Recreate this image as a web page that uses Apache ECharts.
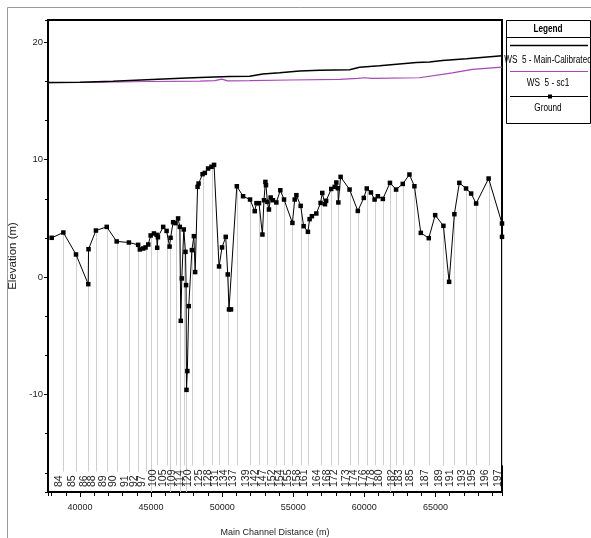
<!DOCTYPE html>
<html>
<head>
<meta charset="utf-8">
<script src="https://cdn.jsdelivr.net/npm/echarts@6/dist/echarts.min.js"></script>
<style>
  html, body { margin: 0; padding: 0; background: #fff; }
  #chart { width: 591px; height: 538px; }
</style>
</head>
<body>
<div id="chart"></div>
<script>
// ground profile along the main channel (m, m)
var groundDist = [38010, 38830, 39720, 40580, 40600, 41120, 41880, 42580, 43440, 44090,
  44210, 44450, 44610, 44800, 44970, 45200, 45390, 45430, 45480, 45850,
  46090, 46300, 46370, 46550, 46720, 46900, 47020, 47090, 47160, 47300,
  47420, 47460, 47490, 47550, 47650, 47870, 48010, 48100, 48270, 48340,
  48620, 48780, 49010, 49250, 49430, 49780, 49990, 50250, 50390, 50480,
  50620, 51030, 51470, 51960, 52290, 52410, 52590, 52830, 52940, 53040,
  53080, 53180, 53290, 53410, 53570, 53810, 54090, 54350, 54940, 55100,
  55220, 55520, 55730, 56030, 56150, 56310, 56620, 56920, 57040, 57230,
  57310, 57670, 57910, 58030, 58140, 58170, 58330, 58960, 59540, 59960,
  60170, 60460, 60720, 60950, 61300, 61800, 62230, 62700, 63170, 63520,
  63970, 64530, 64980, 65560, 65960, 66330, 66680, 67150, 67510, 67860,
  68740, 69680, 69680];
var groundElev = [3.35, 3.8, 1.93, -0.6, 2.38, 3.97, 4.28, 3.04, 2.95, 2.75,
  2.36, 2.44, 2.53, 2.78, 3.55, 3.72, 3.6, 2.5, 3.4, 4.28,
  3.94, 2.6, 3.35, 4.68, 4.6, 5.0, 4.28, -3.72, -0.11, 4.06,
  2.15, -0.68, -9.6, -8.0, -2.47, 2.3, 3.49, 0.43, 7.69, 7.97,
  8.77, 8.88, 9.25, 9.4, 9.56, 0.91, 2.53, 3.43, 0.23, -2.75,
  -2.75, 7.74, 6.89, 6.61, 5.62, 6.3, 6.3, 3.63, 6.55, 8.11,
  7.83, 6.41, 5.76, 6.78, 6.55, 6.36, 7.4, 6.61, 4.62, 6.61,
  6.98, 6.07, 4.34, 3.86, 4.94, 5.19, 5.42, 6.32, 7.17, 6.21,
  6.5, 7.51, 7.69, 8.06, 7.57, 6.36, 8.54, 7.46, 5.64, 6.75,
  7.55, 7.21, 6.61, 6.89, 6.66, 8.03, 7.46, 7.94, 8.74, 7.74,
  3.77, 3.32, 5.28, 4.37, -0.4, 5.36, 8.03, 7.55, 7.12, 6.27,
  8.4, 4.57, 3.43];

// water surface, plan "Main-Calibrated"
var wsMainDist = [37750, 40000, 42320, 43510, 45480, 47510, 48430, 50530, 51940, 52850,
  54040, 55450, 56850, 58960, 59660, 61070, 63660, 64580, 65490, 67180, 69680];
var wsMainElev = [16.57, 16.6, 16.68, 16.75, 16.85, 16.96, 17.0, 17.08, 17.1, 17.3,
  17.4, 17.56, 17.62, 17.67, 17.88, 18.0, 18.28, 18.32, 18.45, 18.6, 18.85];

// water surface, plan "sc1"
var wsSc1Dist = [37750, 41400, 44920, 48430, 49480, 49970, 50390, 51940, 54750, 58260,
  59520, 60010, 60500, 63870, 66190, 67600, 69680];
var wsSc1Elev = [16.57, 16.6, 16.66, 16.7, 16.73, 16.86, 16.72, 16.74, 16.79, 16.85,
  16.93, 16.98, 16.93, 16.98, 17.4, 17.7, 17.88];

// river stations (blank label = cross section drawn without a label)
var stationDist = [38830, 39720, 40580, 41120, 41880, 42580, 43440, 44090, 44610, 44970,
  45390, 46090, 46300, 46720, 47020, 47300, 47490, 47870, 48620, 49250,
  49780, 50390, 51030, 51960, 52590, 53180, 53810, 54350, 54940, 55520,
  56030, 56920, 57670, 58170, 58960, 59540, 60170, 60720, 61300, 61800,
  62230, 62700, 63520, 64530, 65560, 66330, 67150, 67860, 68740, 69680];
var stationLabel = ['84', '85', '86', '88', '89', '90', '91', '92', '97', '',
  '100', '105', '', '109', '', '114', '', '120', '125', '128',
  '131', '134', '137', '139', '142', '147', '152', '154', '155', '158',
  '161', '164', '168', '172', '173', '174', '176', '178', '180', '',
  '182', '183', '185', '187', '189', '191', '193', '195', '196', '197'];

var seriesNames = ['WS  5 - Main-Calibrated', 'WS  5 - sc1', 'Ground'];
var xTickLabels = [40000, 45000, 50000, 55000, 60000, 65000];
var yTickLabels = [-10, 0, 10, 20];

var X_MIN = 37750, X_MAX = 69680, Y_MIN = -18.3, Y_MAX = 21.9;
var FONT = '"Liberation Sans", Arial, sans-serif';
var WS_PURPLE = '#a845b8';

function zipPts(xs, ys) {
  return xs.map(function (x, i) { return [x, ys[i]]; });
}

// ground elevation at a station (lowest point if the profile has a vertical step there)
function groundAt(d) {
  var hits = [];
  for (var i = 0; i < groundDist.length; i++) {
    if (Math.abs(groundDist[i] - d) < 1) hits.push(groundElev[i]);
  }
  if (hits.length) return Math.min.apply(null, hits);
  for (var j = 1; j < groundDist.length; j++) {
    if (groundDist[j] >= d) {
      var t = (d - groundDist[j - 1]) / (groundDist[j] - groundDist[j - 1]);
      return groundElev[j - 1] + t * (groundElev[j] - groundElev[j - 1]);
    }
  }
  return groundElev[groundElev.length - 1];
}

var stationData = stationDist.map(function (d, i) { return [d, groundAt(d), i]; });

// condensed text for the legend (the original uses a narrow face)
function legendText(text, y, bold) {
  return {
    type: 'text', silent: true, x: 548, y: y, scaleX: 0.82,
    style: {
      text: text, font: (bold ? 'bold ' : '') + '10px ' + FONT,
      fill: '#000', align: 'center', verticalAlign: 'middle'
    }
  };
}

var chart = echarts.init(document.getElementById('chart'));

var option = {
  animation: false,
  backgroundColor: '#fff',
  grid: {
    left: 48, top: 20, right: 89, bottom: 46,
    outerBoundsMode: 'none',
    show: true, borderColor: '#000', borderWidth: 2, backgroundColor: '#fff'
  },
  xAxis: [
    {
      type: 'value',
      min: X_MIN, max: X_MAX,
      minInterval: 5000, maxInterval: 5000,
      name: 'Main Channel Distance (m)',
      nameLocation: 'middle',
      nameGap: 36,
      nameTextStyle: { fontFamily: FONT, fontSize: 9, color: '#222' },
      axisLine: { show: true, onZero: false, lineStyle: { color: '#000', width: 2 } },
      axisTick: { show: true, inside: false, length: 5, lineStyle: { color: '#000' } },
      axisLabel: {
        margin: 11, fontFamily: FONT, fontSize: 9, color: '#222',
        showMinLabel: false, showMaxLabel: false,
        formatter: function (v) { return xTickLabels.indexOf(v) >= 0 ? String(v) : ''; }
      },
      splitLine: { show: false }
    },
    {
      // minor ticks every 1000 m
      type: 'value',
      position: 'bottom',
      min: X_MIN, max: X_MAX,
      minInterval: 1000, maxInterval: 1000,
      axisLine: { show: false, onZero: false },
      axisTick: { show: true, length: 4, lineStyle: { color: '#000' } },
      axisLabel: { show: false },
      splitLine: { show: false }
    }
  ],
  yAxis: [
    {
      type: 'value',
      min: Y_MIN, max: Y_MAX,
      minInterval: 10, maxInterval: 10,
      name: 'Elevation (m)',
      nameLocation: 'middle',
      nameGap: 27,
      nameTextStyle: { fontFamily: FONT, fontSize: 11.5, color: '#222' },
      axisLine: { show: true, onZero: false, lineStyle: { color: '#000', width: 2 } },
      axisTick: { show: true, length: 4, lineStyle: { color: '#000' } },
      axisLabel: {
        margin: 5, fontFamily: FONT, fontSize: 9.5, color: '#222',
        showMinLabel: false, showMaxLabel: false,
        formatter: function (v) { return yTickLabels.indexOf(v) >= 0 ? String(v) : ''; }
      },
      splitLine: { show: false }
    },
    {
      // minor ticks
      type: 'value',
      position: 'left',
      min: Y_MIN, max: Y_MAX,
      minInterval: 10 / 3, maxInterval: 10 / 3,
      axisLine: { show: false, onZero: false },
      axisTick: { show: true, length: 3, lineStyle: { color: '#000' } },
      axisLabel: { show: false },
      splitLine: { show: false }
    }
  ],
  series: [
    {
      type: 'custom',
      name: 'stations',
      silent: true,
      z: 1,
      data: stationData,
      renderItem: function (params, api) {
        var top = api.coord([api.value(0), api.value(1)]);
        var bottom = api.coord([api.value(0), Y_MIN]);
        var label = stationLabel[api.value(2)];
        var x = Math.round(top[0]) + 0.5;
        var labelBottom = bottom[1] - 5;
        var lineEnd = label ? labelBottom - label.length * 6.2 - 3 : bottom[1];
        return {
          type: 'group',
          children: [
            {
              type: 'line',
              shape: { x1: x, y1: top[1], x2: x, y2: lineEnd },
              style: { stroke: '#cfcfcf', lineWidth: 1 }
            },
            {
              type: 'text',
              x: x + 1,
              y: labelBottom,
              rotation: Math.PI / 2,
              style: {
                text: label,
                font: '10.5px ' + FONT,
                fill: '#222',
                align: 'left',
                verticalAlign: 'bottom'
              }
            }
          ]
        };
      }
    },
    {
      type: 'line',
      name: seriesNames[0],
      z: 3,
      data: zipPts(wsMainDist, wsMainElev),
      showSymbol: false,
      symbol: 'none',
      lineStyle: { color: '#000', width: 1.5 },
      itemStyle: { color: '#000' }
    },
    {
      type: 'line',
      name: seriesNames[1],
      z: 2,
      data: zipPts(wsSc1Dist, wsSc1Elev),
      showSymbol: false,
      symbol: 'none',
      lineStyle: { color: WS_PURPLE, width: 1.2 },
      itemStyle: { color: WS_PURPLE }
    },
    {
      type: 'line',
      name: seriesNames[2],
      z: 4,
      data: zipPts(groundDist, groundElev),
      symbol: 'rect',
      symbolSize: 4.5,
      showAllSymbol: true,
      lineStyle: { color: '#000', width: 1 },
      itemStyle: { color: '#000' }
    }
  ],
  graphic: [
    // outer frame
    {
      type: 'rect', silent: true, z: -10,
      shape: { x: 7.5, y: 7.5, width: 800, height: 800 },
      style: { fill: 'none', stroke: '#9a9a9a', lineWidth: 1 }
    },
    // legend box
    {
      type: 'rect', silent: true,
      shape: { x: 506.5, y: 20.5, width: 84, height: 103 },
      style: { fill: '#fff', stroke: '#000', lineWidth: 1 }
    },
    {
      type: 'line', silent: true,
      shape: { x1: 507, y1: 37.5, x2: 590, y2: 37.5 },
      style: { stroke: '#000', lineWidth: 1 }
    },
    legendText('Legend', 29, true),
    {
      type: 'line', silent: true,
      shape: { x1: 510, y1: 45.5, x2: 588, y2: 45.5 },
      style: { stroke: '#000', lineWidth: 1.5 }
    },
    legendText(seriesNames[0], 60),
    {
      type: 'line', silent: true,
      shape: { x1: 510, y1: 71.5, x2: 588, y2: 71.5 },
      style: { stroke: WS_PURPLE, lineWidth: 1.2 }
    },
    legendText(seriesNames[1], 83),
    {
      type: 'line', silent: true,
      shape: { x1: 510, y1: 96.5, x2: 588, y2: 96.5 },
      style: { stroke: '#000', lineWidth: 1 }
    },
    {
      type: 'rect', silent: true,
      shape: { x: 548, y: 94.5, width: 4, height: 4 },
      style: { fill: '#000' }
    },
    legendText(seriesNames[2], 108)
  ]
};

chart.setOption(option);
</script>
</body>
</html>
